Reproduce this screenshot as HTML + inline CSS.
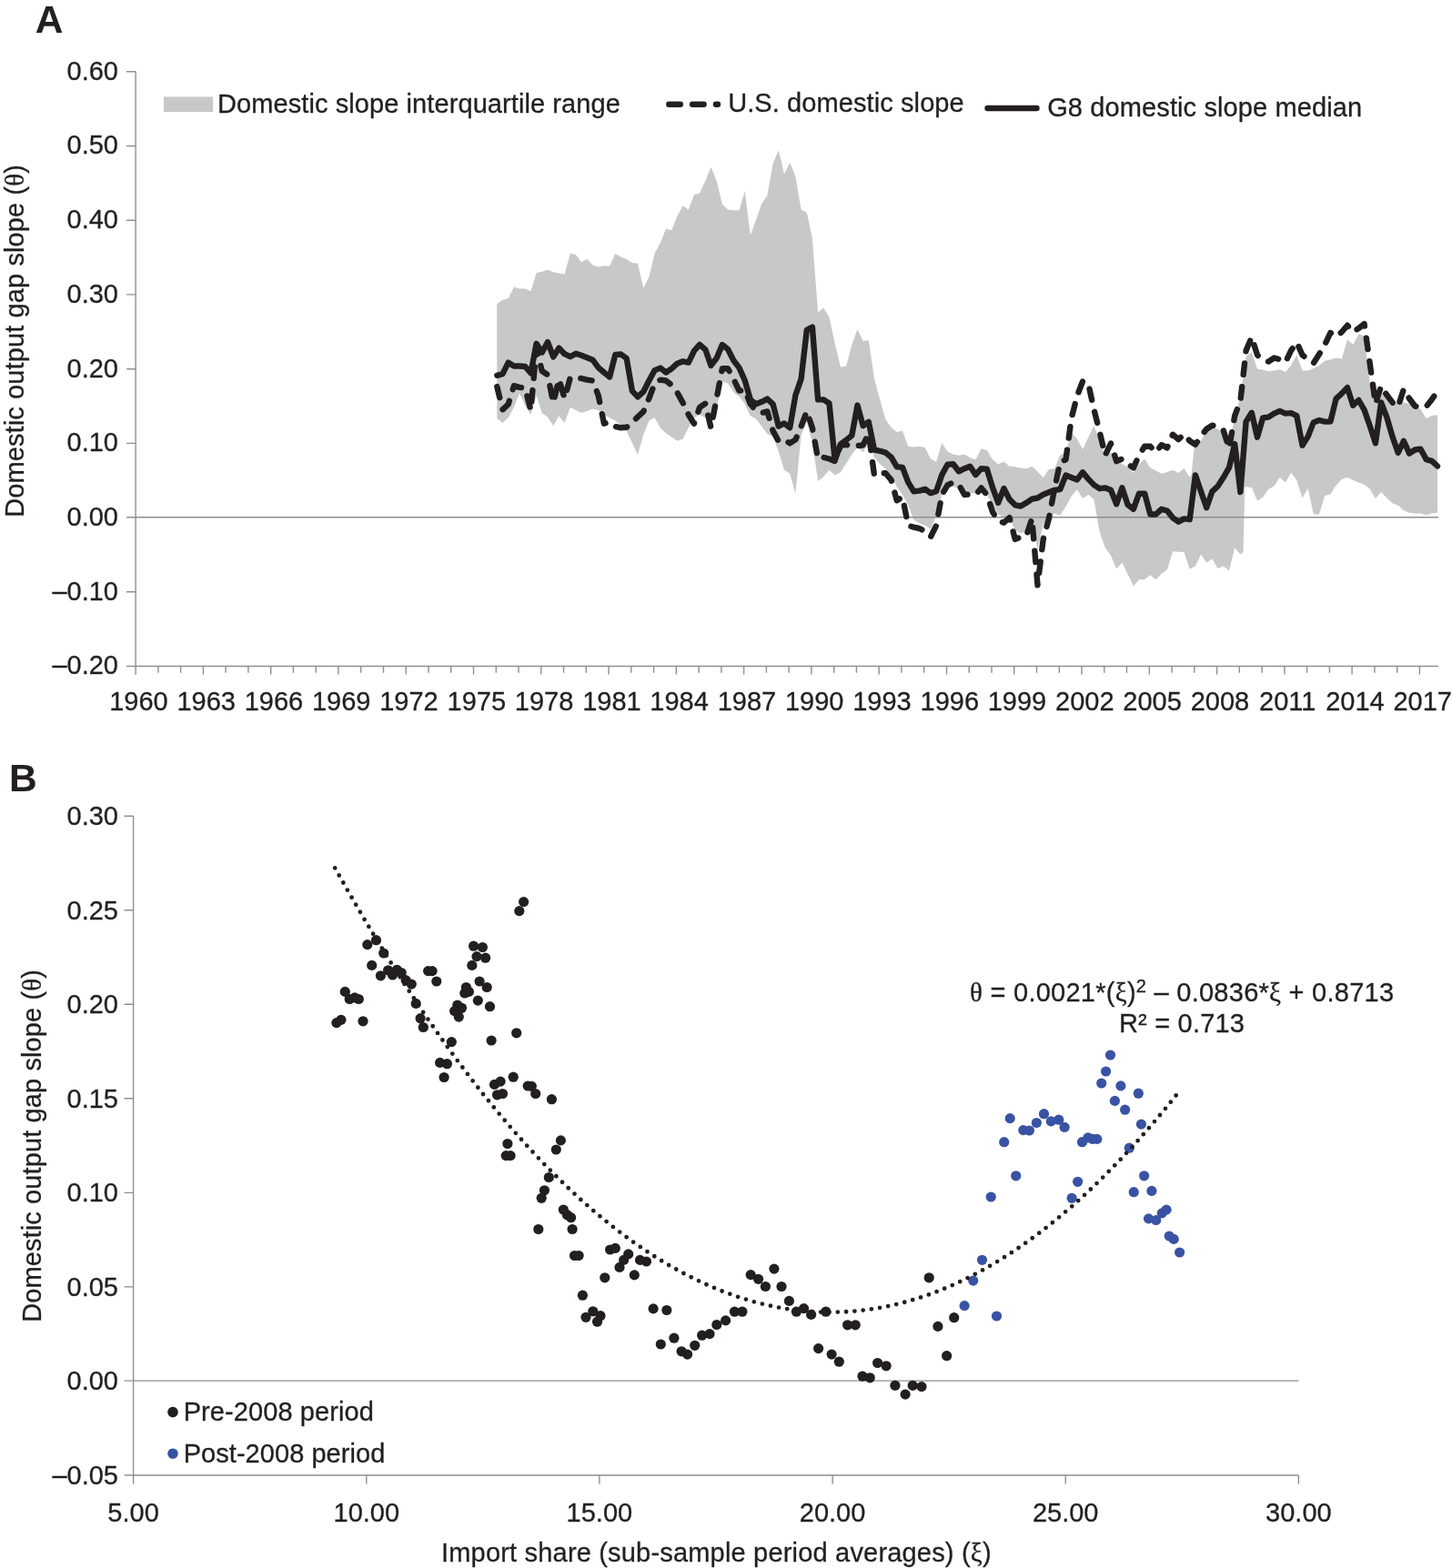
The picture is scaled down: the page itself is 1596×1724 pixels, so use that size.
<!DOCTYPE html>
<html lang="en"><head><meta charset="utf-8"><title>Domestic output gap slope</title>
<style>html,body{margin:0;padding:0;background:#fff}svg{display:block}text{font-family:"Liberation Sans",Arial,Helvetica,sans-serif;fill:#231f20;stroke:#231f20;stroke-width:0.3px}.g{font-family:"Liberation Serif","DejaVu Serif",serif}.b{font-weight:bold;stroke-width:0}</style></head><body>
<svg width="1596" height="1724" viewBox="0 0 1596 1724">
<rect width="1596" height="1724" fill="#fff"/>
<polygon fill="#c7c8ca" points="546.3,333.9 552.5,329.8 558.7,328.2 564.9,315.6 571.1,317.6 577.2,317.6 583.4,320 589.6,300 595.8,298.8 602,296.4 608.2,299.3 614.4,300.5 620.6,301.6 626.8,278.5 633,280.1 639.1,288.3 645.3,284.7 651.5,291.5 657.7,293.5 663.9,292.3 670.1,292.8 676.3,278.8 682.5,282.6 688.7,285 694.9,289.1 701,289.6 707.2,316.8 713.4,304.5 719.6,278.5 725.8,267.1 732,251.6 738.2,253.2 744.4,237.8 750.6,226.3 756.8,230.4 762.9,214.1 769.1,212.5 775.3,198.7 781.5,183.7 787.7,198.7 793.9,224.7 800.1,230.4 806.3,231.2 812.5,231.2 818.7,210.1 824.8,258.6 831,241.8 837.2,223.9 843.4,214.9 849.6,179.9 855.8,165.3 862,191.3 868.2,178.8 874.4,193.8 880.6,230.4 886.8,233.4 892.9,262.2 899.1,343.6 905.3,338.4 911.5,349 917.7,377.5 923.9,403.5 930.1,402.7 936.3,379.1 942.5,362 948.6,375 954.8,374.2 961,416.6 967.2,439.4 973.4,461.3 979.6,470.1 985.8,475.1 992,473.8 998.2,490.8 1004.4,491.4 1010.5,490.8 1016.7,492 1022.9,504.5 1029.1,507.7 1035.3,487 1041.5,496.4 1047.7,499.5 1053.9,500.8 1060.1,499.5 1066.3,503.3 1072.4,505.2 1078.6,493.3 1084.8,495.1 1091,505.2 1097.2,510.2 1103.4,507.7 1109.6,512.7 1115.8,513.3 1122,514.6 1128.2,515.2 1134.3,512.8 1140.5,518.5 1146.7,525 1152.9,516 1159.1,515.2 1165.3,500.6 1171.5,497.3 1177.7,476.1 1183.9,482.6 1190.1,494 1196.2,481 1202.4,468 1208.6,484.3 1214.8,502.2 1221,497.3 1227.2,505.4 1233.4,510.3 1239.6,513.6 1245.8,520.1 1252,510.3 1258.2,504.6 1264.3,514.2 1270.5,517.5 1276.7,520.7 1282.9,519.1 1289.1,516.7 1295.3,519.9 1301.5,515 1307.7,524.8 1309.5,522.2 1312.6,492.9 1313.9,486.4 1320,484.8 1326.2,473.4 1332.4,470.1 1338.6,471.7 1344.8,476.6 1351,486.4 1357.2,460.3 1363.4,435.9 1369.6,391.9 1375.8,387 1382,405.8 1388.1,406.6 1394.3,408.2 1400.5,407.4 1406.7,406.2 1412.9,409 1419.1,401.7 1425.3,390.3 1431.5,407.4 1437.7,407.4 1443.8,404.9 1450,401.7 1456.2,396.8 1462.4,395.2 1468.6,393.5 1474.8,394.4 1481,373.2 1487.2,378.9 1493.4,367.5 1499.6,369.1 1505.8,421.2 1511.9,444 1518.1,431 1524.3,437.5 1530.5,442.4 1536.7,444 1542.9,442.4 1549.1,444 1555.3,446.5 1561.5,449.7 1567.7,460.3 1573.8,457.1 1580,456.3 1580,563.8 1573.8,564.6 1567.7,566.2 1561.5,564.6 1555.3,564.6 1549.1,563.8 1542.9,561.3 1536.7,555.6 1530.5,553.2 1524.3,547.5 1518.1,541 1511.9,548.3 1505.8,537.7 1499.6,532.8 1493.4,530.4 1487.2,527.9 1481,524.7 1474.8,527.1 1468.6,533.6 1462.4,543.4 1456.2,545.1 1450,565.4 1443.8,565.4 1437.7,536.9 1431.5,547.5 1425.3,527.9 1419.1,519.8 1412.9,530.4 1406.7,524.7 1400.5,534.5 1394.3,537.7 1388.1,546.7 1382,550.8 1375.8,536.1 1369.6,535.3 1368.3,536.2 1366.5,607.1 1363.4,609.5 1357.2,602.2 1351,627.4 1344.8,622.6 1338.6,625 1332.4,614.4 1326.2,618.5 1320,609.5 1313.9,622.6 1307.7,625.8 1301.5,607.1 1295.3,606.8 1289.1,606.3 1282.9,626.6 1276.7,630.7 1270.5,637.2 1264.3,632.3 1258.2,637.2 1252,637.2 1245.8,644.5 1239.6,631.5 1233.4,618.5 1227.2,625.4 1221,610.8 1214.8,602.6 1208.6,584.7 1202.4,548.9 1196.2,544 1190.1,548.1 1183.9,538.3 1177.7,545.6 1171.5,557 1165.3,566.8 1159.1,564.4 1152.9,568.4 1146.7,576.6 1140.5,604.3 1134.3,570.1 1128.2,584.1 1122,586.6 1115.8,582.9 1109.6,569.1 1103.4,569.1 1097.2,565.3 1091,555.3 1084.8,544 1078.6,540.3 1072.4,542.8 1066.3,542.1 1060.1,544 1053.9,536.5 1047.7,535.2 1041.5,536.5 1035.3,544 1029.1,567.8 1022.9,581.6 1016.7,577.8 1010.5,575.3 1004.4,571.6 998.2,555.3 992,544 985.8,535.2 979.6,522.7 973.4,515.2 967.2,510.2 961,502.7 954.8,486.6 948.6,497.2 942.5,491.5 936.3,499.7 930.1,509.4 923.9,519.2 917.7,522.5 911.5,516.8 905.3,524.1 899.1,529 892.9,486.6 886.8,463.8 880.6,478.5 874.4,542.8 868.2,520.8 862,516.8 855.8,496.4 849.6,480.1 843.4,476.9 837.2,468.7 831,460.6 824.8,457.3 818.7,444.3 812.5,436.1 806.3,431.2 800.1,421.5 793.9,419.8 787.7,449 781.5,460 775.3,459.2 769.1,456 762.9,459.2 756.8,470.6 750.6,482.8 744.4,484.8 738.2,480.4 732,476.3 725.8,470.6 719.6,459.2 713.4,462.5 707.2,477.9 701,499.9 694.9,486.9 688.7,473.9 682.5,467.4 676.3,462.5 670.1,459.2 663.9,456 657.7,451.1 651.5,449.4 645.3,451.9 639.1,454 633,451.1 626.8,447.8 620.6,464.9 614.4,457.6 608.2,468.2 602,458.4 595.8,454.3 589.6,434.8 583.4,456 577.2,446.2 571.1,432.3 564.9,447.8 558.7,459.2 552.5,464.9 546.3,460"/>
<g stroke="#8f8f8f" stroke-width="1.4" fill="none">
<path d="M149.1 78.8 V741.8"/>
<path d="M139.1 732.5 H1581"/>
<path d="M139.1 568.8 H1581"/>
<path d="M139.1 78.8 H149.1M139.1 160.5 H149.1M139.1 242.2 H149.1M139.1 323.9 H149.1M139.1 405.7 H149.1M139.1 487.4 H149.1M139.1 650.8 H149.1"/>
<path d="M173.9 732.5 V739.7M198.6 732.5 V739.7M223.4 732.5 V741.5M248.1 732.5 V739.7M272.9 732.5 V739.7M297.7 732.5 V741.5M322.4 732.5 V739.7M347.2 732.5 V739.7M371.9 732.5 V741.5M396.7 732.5 V739.7M421.5 732.5 V739.7M446.2 732.5 V741.5M471 732.5 V739.7M495.7 732.5 V739.7M520.5 732.5 V741.5M545.3 732.5 V739.7M570 732.5 V739.7M594.8 732.5 V741.5M619.5 732.5 V739.7M644.3 732.5 V739.7M669.1 732.5 V741.5M693.8 732.5 V739.7M718.6 732.5 V739.7M743.3 732.5 V741.5M768.1 732.5 V739.7M792.9 732.5 V739.7M817.6 732.5 V741.5M842.4 732.5 V739.7M867.1 732.5 V739.7M891.9 732.5 V741.5M916.7 732.5 V739.7M941.4 732.5 V739.7M966.2 732.5 V741.5M990.9 732.5 V739.7M1015.7 732.5 V739.7M1040.5 732.5 V741.5M1065.2 732.5 V739.7M1090 732.5 V739.7M1114.7 732.5 V741.5M1139.5 732.5 V739.7M1164.3 732.5 V739.7M1189 732.5 V741.5M1213.8 732.5 V739.7M1238.5 732.5 V739.7M1263.3 732.5 V741.5M1288.1 732.5 V739.7M1312.8 732.5 V739.7M1337.6 732.5 V741.5M1362.3 732.5 V739.7M1387.1 732.5 V739.7M1411.9 732.5 V741.5M1436.6 732.5 V739.7M1461.4 732.5 V739.7M1486.1 732.5 V741.5M1510.9 732.5 V739.7M1535.7 732.5 V739.7M1560.4 732.5 V741.5"/>
</g>
<polyline fill="none" stroke="#231f20" stroke-width="6.4" stroke-linejoin="round" stroke-linecap="round" stroke-dasharray="12.5 13.3" points="546.3,425 552.5,450.3 558.7,444.5 564.9,424.2 571.1,425.8 577.2,426.6 583.4,451.1 589.6,383.5 595.8,408 602,412 608.2,442.9 614.4,416.9 620.6,438 626.8,415.2 633,415.2 639.1,416 645.3,417.7 651.5,418.5 657.7,434.8 663.9,465.7 670.1,464.1 676.3,469 682.5,470.3 688.7,469.8 694.9,464.1 701,458.4 707.2,452.7 713.4,438 719.6,421.7 725.8,417.7 732,418.5 738.2,423.4 744.4,431.5 750.6,442.9 756.8,456 762.9,465.7 769.1,447.8 775.3,443.7 781.5,470.3 787.7,437.8 793.9,405.2 800.1,405.2 806.3,416.6 812.5,429.6 818.7,428.8 824.8,444.3 831,451.6 837.2,454 843.4,452.4 849.6,473.6 855.8,485 862,483.4 868.2,487.4 874.4,483.4 880.6,468.7 886.8,452.4 892.9,470.3 899.1,504.5 905.3,502.9 911.5,504.5 917.7,507 923.9,489.9 930.1,488.9 936.3,491.4 942.5,490.1 948.6,489.5 954.8,476.3 961,522.7 967.2,520.2 973.4,520.2 979.6,527.7 985.8,550.3 992,546.5 998.2,577.8 1004.4,579.7 1010.5,581 1016.7,584.1 1022.9,590.4 1029.1,577.8 1035.3,544 1041.5,533.4 1047.7,530.2 1053.9,532.7 1060.1,544 1066.3,543.4 1072.4,544 1078.6,536.5 1084.8,544 1091,562.8 1097.2,572.8 1103.4,574.7 1109.6,569.1 1115.8,592.9 1122,590.4 1128.2,589.1 1134.3,570.1 1140.5,643.4 1146.7,592.9 1152.9,570.1 1159.1,537.5 1165.3,508.1 1171.5,505.4 1177.7,459.8 1183.9,435.4 1190.1,419.1 1196.2,421.5 1202.4,450.1 1208.6,474.5 1214.8,500.6 1221,487.5 1227.2,507.1 1233.4,504.6 1239.6,510.3 1245.8,514.4 1252,500.6 1258.2,490.8 1264.3,490.8 1270.5,497.3 1276.7,489.2 1282.9,492.4 1289.1,477.8 1295.3,483.1 1301.5,477.4 1307.7,484.8 1313.9,488.8 1320,479.9 1326.2,471.7 1332.4,467.7 1338.6,468.5 1344.8,473.4 1351,492.9 1357.2,457.1 1363.4,440.8 1369.6,385.4 1375.8,370.7 1382,390.3 1388.1,395.2 1394.3,397.6 1400.5,393.5 1406.7,395.2 1412.9,398.4 1419.1,385.4 1425.3,376.4 1431.5,390.3 1437.7,395.2 1443.8,399.2 1450,389.5 1456.2,378.9 1462.4,365.8 1468.6,369.9 1474.8,365 1481,357.7 1487.2,365 1493.4,361 1499.6,356.1 1505.8,400.1 1511.9,444 1518.1,424.5 1524.3,434.3 1530.5,442.4 1536.7,447.3 1542.9,427.8 1549.1,438.3 1555.3,446.5 1561.5,448.1 1567.7,447 1573.8,439.2 1580,430.2"/>
<polyline fill="none" stroke="#231f20" stroke-width="6.4" stroke-linejoin="round" stroke-linecap="round" points="546.3,412.8 552.5,411.2 558.7,398.6 564.9,402.5 571.1,402.5 577.2,403 583.4,410.3 589.6,377.8 595.8,387.5 602,376.1 608.2,392.4 614.4,382.6 620.6,389.2 626.8,392.1 633,388.8 639.1,390.8 645.3,393.2 651.5,395.7 657.7,404.1 663.9,409.5 670.1,414.4 676.3,390 682.5,389.5 688.7,394 694.9,429.9 701,436.4 707.2,430.7 713.4,418.5 719.6,407.1 725.8,404.6 732,409.5 738.2,405.4 744.4,399.7 750.6,397.3 756.8,398.6 762.9,385.9 769.1,378.9 775.3,384.3 781.5,401.9 787.7,393.8 793.9,379.1 800.1,384 806.3,396.2 812.5,404.4 818.7,418.2 824.8,439.4 831,444.3 837.2,441.8 843.4,438.6 849.6,444.3 855.8,468.7 862,465.4 868.2,470.3 874.4,434.5 880.6,416.6 886.8,362.8 892.9,359.6 899.1,439.4 905.3,439.4 911.5,443.5 917.7,506.2 923.9,488.3 930.1,483.9 936.3,478.8 942.5,445.6 948.6,468.2 954.8,463.8 961,494.5 967.2,495.8 973.4,497.6 979.6,502.7 985.8,513.3 992,513.9 998.2,530.2 1004.4,540.3 1010.5,539.6 1016.7,537.7 1022.9,542.1 1029.1,540.3 1035.3,522.1 1041.5,510.8 1047.7,510.2 1053.9,518.3 1060.1,515.2 1066.3,512.7 1072.4,522.1 1078.6,515.2 1084.8,515.8 1091,535.9 1097.2,552.8 1103.4,537.1 1109.6,549 1115.8,555.3 1122,556.5 1128.2,552.8 1134.3,548.6 1140.5,547.5 1146.7,543.7 1152.9,541.3 1159.1,538.8 1165.3,538 1171.5,522.6 1177.7,525 1183.9,527.4 1190.1,519.3 1196.2,526.6 1202.4,533.1 1208.6,537.2 1214.8,536.4 1221,538.8 1227.2,554.3 1233.4,536.2 1239.6,554.9 1245.8,559.8 1252,542.7 1258.2,542.7 1264.3,565.5 1270.5,565.5 1276.7,559.8 1282.9,561.5 1289.1,569.3 1295.3,573.7 1301.5,570.4 1307.7,571.2 1313.9,522.4 1320,540.3 1326.2,558.2 1332.4,540.3 1338.6,534.6 1344.8,524.8 1351,514.2 1357.2,488.1 1363.4,541.1 1369.6,463.6 1375.8,453.8 1382,480.7 1388.1,459.5 1394.3,458.7 1400.5,454.6 1406.7,451.9 1412.9,454.6 1419.1,454.1 1425.3,457.1 1431.5,489.7 1437.7,479.9 1443.8,464.4 1450,462 1456.2,463.6 1462.4,463.6 1468.6,438.3 1474.8,432.6 1481,426.1 1487.2,445.7 1493.4,440 1499.6,450.6 1505.8,468.5 1511.9,487.2 1518.1,442.4 1524.3,458.7 1530.5,479.9 1536.7,497.8 1542.9,484.8 1549.1,498.6 1555.3,494.5 1561.5,493.7 1567.7,505.1 1573.8,506.8 1580,512.5"/>
<text class="b" x="38.7" y="35.7" font-size="42.5">A</text>
<g font-size="29" text-anchor="end">
<text x="130" y="87.6">0.60</text>
<text x="130" y="169.3">0.50</text>
<text x="130" y="251">0.40</text>
<text x="130" y="332.7">0.30</text>
<text x="130" y="414.5">0.20</text>
<text x="130" y="496.2">0.10</text>
<text x="130" y="577.9">0.00</text>
<text x="130" y="659.6">–0.10</text>
<text x="130" y="741.3">–0.20</text>
</g>
<g font-size="29" text-anchor="middle">
<text x="152.4" y="780.6">1960</text>
<text x="226.7" y="780.6">1963</text>
<text x="301" y="780.6">1966</text>
<text x="375.2" y="780.6">1969</text>
<text x="449.5" y="780.6">1972</text>
<text x="523.8" y="780.6">1975</text>
<text x="598.1" y="780.6">1978</text>
<text x="672.4" y="780.6">1981</text>
<text x="746.6" y="780.6">1984</text>
<text x="820.9" y="780.6">1987</text>
<text x="895.2" y="780.6">1990</text>
<text x="969.5" y="780.6">1993</text>
<text x="1043.8" y="780.6">1996</text>
<text x="1118" y="780.6">1999</text>
<text x="1192.3" y="780.6">2002</text>
<text x="1266.6" y="780.6">2005</text>
<text x="1340.9" y="780.6">2008</text>
<text x="1415.2" y="780.6">2011</text>
<text x="1489.4" y="780.6">2014</text>
<text x="1563.7" y="780.6">2017</text>
</g>
<text font-size="29" text-anchor="middle" letter-spacing="0.11" transform="translate(25.8 374.9) rotate(-90)">Domestic output gap slope (<tspan class="g">θ</tspan>)</text>
<rect x="180" y="106.4" width="54.1" height="16.6" fill="#c7c8ca"/>
<text font-size="29" x="239" y="124" letter-spacing="0.085">Domestic slope interquartile range</text>
<path d="M735.3 114.8 H789" fill="none" stroke="#231f20" stroke-width="6.4" stroke-linecap="round" stroke-dasharray="12.5 13.3"/>
<text font-size="29" x="800.2" y="123.4" letter-spacing="0.09">U.S. domestic slope</text>
<path d="M1085.5 119 H1139.5" fill="none" stroke="#231f20" stroke-width="6.4" stroke-linecap="round"/>
<text font-size="29" x="1151.2" y="127.5" letter-spacing="0.115">G8 domestic slope median</text>
<g stroke="#8f8f8f" stroke-width="1.4" fill="none">
<path d="M146.6 897.2 V1631.5"/>
<path d="M136.6 1622 H1427.4"/>
<path d="M136.6 1518.1 H1427.4"/>
<path d="M136.6 897.2 H146.6M136.6 1000.7 H146.6M136.6 1104.3 H146.6M136.6 1207.8 H146.6M136.6 1311.4 H146.6M136.6 1414.9 H146.6M402.8 1622 V1631.5M658.9 1622 V1631.5M915.1 1622 V1631.5M1171.2 1622 V1631.5M1427.4 1622 V1631.5"/>
</g>
<g fill="#231f20">
<circle cx="575.6" cy="991.6" r="5.6"/>
<circle cx="570.8" cy="1001.6" r="5.6"/>
<circle cx="413.5" cy="1033.7" r="5.6"/>
<circle cx="403.8" cy="1038.6" r="5.6"/>
<circle cx="421.7" cy="1048" r="5.6"/>
<circle cx="408.7" cy="1061.4" r="5.6"/>
<circle cx="418.4" cy="1072.8" r="5.6"/>
<circle cx="426.6" cy="1066.8" r="5.6"/>
<circle cx="431.5" cy="1072" r="5.6"/>
<circle cx="436.3" cy="1066.3" r="5.6"/>
<circle cx="441.2" cy="1069.5" r="5.6"/>
<circle cx="446.1" cy="1077.7" r="5.6"/>
<circle cx="452.3" cy="1082.1" r="5.6"/>
<circle cx="470.6" cy="1067.6" r="5.6"/>
<circle cx="475.1" cy="1067.6" r="5.6"/>
<circle cx="479.8" cy="1079" r="5.6"/>
<circle cx="520.6" cy="1040.2" r="5.6"/>
<circle cx="530.4" cy="1041.5" r="5.6"/>
<circle cx="524" cy="1051.6" r="5.6"/>
<circle cx="533.6" cy="1053.2" r="5.6"/>
<circle cx="518.8" cy="1061.4" r="5.6"/>
<circle cx="527.1" cy="1079" r="5.6"/>
<circle cx="535.2" cy="1085.5" r="5.6"/>
<circle cx="512.4" cy="1085.5" r="5.6"/>
<circle cx="515.4" cy="1090.4" r="5.6"/>
<circle cx="510.8" cy="1092" r="5.6"/>
<circle cx="525.3" cy="1100.1" r="5.6"/>
<circle cx="538.5" cy="1106.7" r="5.6"/>
<circle cx="502.8" cy="1105" r="5.6"/>
<circle cx="507.5" cy="1108.3" r="5.6"/>
<circle cx="499.6" cy="1111.6" r="5.6"/>
<circle cx="504.3" cy="1118.1" r="5.6"/>
<circle cx="379.3" cy="1090.4" r="5.6"/>
<circle cx="389.9" cy="1096.9" r="5.6"/>
<circle cx="384.2" cy="1098.5" r="5.6"/>
<circle cx="394.3" cy="1098.5" r="5.6"/>
<circle cx="374.9" cy="1121.3" r="5.6"/>
<circle cx="369.9" cy="1124.6" r="5.6"/>
<circle cx="399" cy="1122.8" r="5.6"/>
<circle cx="457.2" cy="1103.4" r="5.6"/>
<circle cx="462.1" cy="1119.7" r="5.6"/>
<circle cx="465.3" cy="1129.5" r="5.6"/>
<circle cx="496.3" cy="1145.6" r="5.6"/>
<circle cx="540.1" cy="1144" r="5.6"/>
<circle cx="567.7" cy="1135.8" r="5.6"/>
<circle cx="483.6" cy="1168.4" r="5.6"/>
<circle cx="491.4" cy="1169.7" r="5.6"/>
<circle cx="488.1" cy="1184.5" r="5.6"/>
<circle cx="564.2" cy="1184.2" r="5.6"/>
<circle cx="550.1" cy="1189.1" r="5.6"/>
<circle cx="543.5" cy="1192.4" r="5.6"/>
<circle cx="552.5" cy="1202.5" r="5.6"/>
<circle cx="546.5" cy="1203.8" r="5.6"/>
<circle cx="580.2" cy="1194" r="5.6"/>
<circle cx="584.3" cy="1194.3" r="5.6"/>
<circle cx="588.7" cy="1202.5" r="5.6"/>
<circle cx="606.4" cy="1208.7" r="5.6"/>
<circle cx="557.9" cy="1257.5" r="5.6"/>
<circle cx="556.2" cy="1270.6" r="5.6"/>
<circle cx="561.1" cy="1270.6" r="5.6"/>
<circle cx="616.4" cy="1253.9" r="5.6"/>
<circle cx="611.3" cy="1264" r="5.6"/>
<circle cx="603.3" cy="1294.5" r="5.6"/>
<circle cx="598.4" cy="1308.8" r="5.6"/>
<circle cx="595.2" cy="1317.3" r="5.6"/>
<circle cx="619.3" cy="1330" r="5.6"/>
<circle cx="623.4" cy="1335.7" r="5.6"/>
<circle cx="627.6" cy="1338.7" r="5.6"/>
<circle cx="591.8" cy="1351.5" r="5.6"/>
<circle cx="629.1" cy="1351.5" r="5.6"/>
<circle cx="670.6" cy="1374" r="5.6"/>
<circle cx="676.3" cy="1372.4" r="5.6"/>
<circle cx="631.5" cy="1380.5" r="5.6"/>
<circle cx="636.1" cy="1380.5" r="5.6"/>
<circle cx="690.7" cy="1378.9" r="5.6"/>
<circle cx="685.6" cy="1385.4" r="5.6"/>
<circle cx="703.5" cy="1385.4" r="5.6"/>
<circle cx="710.5" cy="1387" r="5.6"/>
<circle cx="681" cy="1393.4" r="5.6"/>
<circle cx="697.3" cy="1401.9" r="5.6"/>
<circle cx="664.8" cy="1404.8" r="5.6"/>
<circle cx="640.4" cy="1424.2" r="5.6"/>
<circle cx="651.8" cy="1441.8" r="5.6"/>
<circle cx="644" cy="1448.3" r="5.6"/>
<circle cx="660" cy="1446.7" r="5.6"/>
<circle cx="656.5" cy="1453.2" r="5.6"/>
<circle cx="718.1" cy="1438.9" r="5.6"/>
<circle cx="732.8" cy="1440.5" r="5.6"/>
<circle cx="740.9" cy="1471.2" r="5.6"/>
<circle cx="726.3" cy="1478" r="5.6"/>
<circle cx="749.1" cy="1485.8" r="5.6"/>
<circle cx="755.6" cy="1489.1" r="5.6"/>
<circle cx="763.7" cy="1479.3" r="5.6"/>
<circle cx="771.6" cy="1468.2" r="5.6"/>
<circle cx="780" cy="1466.6" r="5.6"/>
<circle cx="787.8" cy="1456.5" r="5.6"/>
<circle cx="797.6" cy="1451.9" r="5.6"/>
<circle cx="807.4" cy="1442.2" r="5.6"/>
<circle cx="815.9" cy="1442.2" r="5.6"/>
<circle cx="825.2" cy="1401.6" r="5.6"/>
<circle cx="833.5" cy="1406.3" r="5.6"/>
<circle cx="841.4" cy="1414.5" r="5.6"/>
<circle cx="850.9" cy="1395.1" r="5.6"/>
<circle cx="859" cy="1414.5" r="5.6"/>
<circle cx="867.4" cy="1430.4" r="5.6"/>
<circle cx="875.4" cy="1442.2" r="5.6"/>
<circle cx="883.5" cy="1438.6" r="5.6"/>
<circle cx="891.6" cy="1445.4" r="5.6"/>
<circle cx="907.8" cy="1442.2" r="5.6"/>
<circle cx="931.6" cy="1456.8" r="5.6"/>
<circle cx="940.2" cy="1456.8" r="5.6"/>
<circle cx="899.6" cy="1482.6" r="5.6"/>
<circle cx="914.1" cy="1489.1" r="5.6"/>
<circle cx="922.3" cy="1497.2" r="5.6"/>
<circle cx="964.6" cy="1498.5" r="5.6"/>
<circle cx="974.1" cy="1501.8" r="5.6"/>
<circle cx="948" cy="1513.2" r="5.6"/>
<circle cx="956.2" cy="1514.8" r="5.6"/>
<circle cx="983.9" cy="1523.3" r="5.6"/>
<circle cx="995.1" cy="1533.1" r="5.6"/>
<circle cx="1003.2" cy="1523.3" r="5.6"/>
<circle cx="1013" cy="1524.6" r="5.6"/>
<circle cx="1021.2" cy="1404.8" r="5.6"/>
<circle cx="1030.9" cy="1458.4" r="5.6"/>
<circle cx="1048.7" cy="1448.7" r="5.6"/>
<circle cx="1040.6" cy="1490.7" r="5.6"/>
</g>
<g fill="#3953a4">
<circle cx="1079.5" cy="1385.3" r="5.6"/>
<circle cx="1069.7" cy="1408.1" r="5.6"/>
<circle cx="1060.1" cy="1435.6" r="5.6"/>
<circle cx="1095.5" cy="1447" r="5.6"/>
<circle cx="1220.5" cy="1160" r="5.6"/>
<circle cx="1215.6" cy="1178" r="5.6"/>
<circle cx="1210.7" cy="1191" r="5.6"/>
<circle cx="1231.9" cy="1193.9" r="5.6"/>
<circle cx="1251.3" cy="1202.2" r="5.6"/>
<circle cx="1225.4" cy="1210.4" r="5.6"/>
<circle cx="1236.6" cy="1220.2" r="5.6"/>
<circle cx="1254.4" cy="1236.1" r="5.6"/>
<circle cx="1110.2" cy="1229.6" r="5.6"/>
<circle cx="1147.5" cy="1224.7" r="5.6"/>
<circle cx="1139.3" cy="1234.5" r="5.6"/>
<circle cx="1155.3" cy="1232.9" r="5.6"/>
<circle cx="1163.8" cy="1231.2" r="5.6"/>
<circle cx="1170.1" cy="1239.4" r="5.6"/>
<circle cx="1124.8" cy="1242.6" r="5.6"/>
<circle cx="1131.4" cy="1243" r="5.6"/>
<circle cx="1103.7" cy="1255.7" r="5.6"/>
<circle cx="1189.5" cy="1255.7" r="5.6"/>
<circle cx="1196" cy="1250.8" r="5.6"/>
<circle cx="1200.9" cy="1252.4" r="5.6"/>
<circle cx="1205.8" cy="1252.4" r="5.6"/>
<circle cx="1241.3" cy="1262.2" r="5.6"/>
<circle cx="1116.7" cy="1292.8" r="5.6"/>
<circle cx="1089.2" cy="1316" r="5.6"/>
<circle cx="1184.6" cy="1299.3" r="5.6"/>
<circle cx="1178.1" cy="1317.3" r="5.6"/>
<circle cx="1257.6" cy="1292.8" r="5.6"/>
<circle cx="1246.2" cy="1310.7" r="5.6"/>
<circle cx="1265.9" cy="1309.4" r="5.6"/>
<circle cx="1282.1" cy="1330.1" r="5.6"/>
<circle cx="1277.2" cy="1333.9" r="5.6"/>
<circle cx="1262.5" cy="1339.9" r="5.6"/>
<circle cx="1270.7" cy="1341.5" r="5.6"/>
<circle cx="1285.2" cy="1359.1" r="5.6"/>
<circle cx="1290.2" cy="1362.4" r="5.6"/>
<circle cx="1296.6" cy="1377" r="5.6"/>
</g>
<polyline fill="none" stroke="#231f20" stroke-width="4.8" stroke-linecap="round" stroke-dasharray="0 9.3" points="368.2,954.3 372.8,962.6 377.5,970.8 382.1,979 386.8,987.1 391.4,995.1 396.1,1003.1 400.7,1011 405.4,1018.8 410,1026.5 414.7,1034.2 419.3,1041.8 424,1049.3 428.6,1056.8 433.3,1064.2 437.9,1071.5 442.6,1078.7 447.2,1085.9 451.9,1093 456.5,1100 461.2,1107 465.8,1113.9 470.5,1120.7 475.1,1127.4 479.8,1134.1 484.4,1140.7 489.1,1147.2 493.7,1153.7 498.4,1160.1 503,1166.4 507.7,1172.6 512.3,1178.8 517,1184.9 521.6,1190.9 526.3,1196.9 530.9,1202.8 535.6,1208.6 540.2,1214.3 544.9,1220 549.5,1225.6 554.2,1231.1 558.8,1236.6 563.5,1242 568.1,1247.3 572.8,1252.5 577.4,1257.7 582.1,1262.8 586.7,1267.8 591.4,1272.8 596,1277.7 600.7,1282.5 605.3,1287.2 610,1291.9 614.6,1296.5 619.3,1301 623.9,1305.5 628.6,1309.9 633.2,1314.2 637.9,1318.5 642.5,1322.6 647.2,1326.7 651.8,1330.8 656.5,1334.7 661.1,1338.6 665.8,1342.4 670.4,1346.2 675.1,1349.9 679.7,1353.5 684.4,1357 689,1360.5 693.7,1363.9 698.3,1367.2 703,1370.4 707.6,1373.6 712.3,1376.7 716.9,1379.7 721.6,1382.7 726.2,1385.6 730.9,1388.4 735.5,1391.2 740.2,1393.8 744.8,1396.4 749.5,1399 754.1,1401.4 758.8,1403.8 763.4,1406.2 768.1,1408.4 772.7,1410.6 777.4,1412.7 782,1414.7 786.7,1416.7 791.3,1418.6 796,1420.4 800.6,1422.1 805.3,1423.8 809.9,1425.4 814.6,1427 819.2,1428.4 823.9,1429.8 828.5,1431.2 833.2,1432.4 837.8,1433.6 842.5,1434.7 847.1,1435.7 851.8,1436.7 856.4,1437.6 861.1,1438.4 865.7,1439.2 870.4,1439.8 875,1440.5 879.7,1441 884.3,1441.5 889,1441.9 893.6,1442.2 898.3,1442.4 902.9,1442.6 907.6,1442.7 912.2,1442.8 916.9,1442.7 921.5,1442.6 926.2,1442.4 930.8,1442.2 935.5,1441.9 940.1,1441.5 944.8,1441 949.4,1440.5 954.1,1439.9 958.7,1439.2 963.4,1438.5 968,1437.7 972.7,1436.8 977.3,1435.8 982,1434.8 986.6,1433.7 991.3,1432.5 995.9,1431.3 1000.6,1429.9 1005.2,1428.6 1009.9,1427.1 1014.5,1425.6 1019.2,1424 1023.8,1422.3 1028.5,1420.6 1033.1,1418.7 1037.8,1416.8 1042.4,1414.9 1047.1,1412.9 1051.7,1410.8 1056.4,1408.6 1061,1406.3 1065.7,1404 1070.3,1401.6 1075,1399.2 1079.6,1396.7 1084.3,1394.1 1088.9,1391.4 1093.6,1388.6 1098.2,1385.8 1102.9,1382.9 1107.5,1380 1112.2,1377 1116.8,1373.9 1121.5,1370.7 1126.1,1367.5 1130.8,1364.1 1135.4,1360.8 1140.1,1357.3 1144.7,1353.8 1149.4,1350.2 1154,1346.5 1158.7,1342.8 1163.3,1339 1168,1335.1 1172.6,1331.1 1177.3,1327.1 1181.9,1323 1186.6,1318.8 1191.2,1314.6 1195.9,1310.3 1200.5,1305.9 1205.2,1301.4 1209.8,1296.9 1214.5,1292.3 1219.1,1287.6 1223.8,1282.9 1228.4,1278.1 1233.1,1273.2 1237.7,1268.3 1242.4,1263.2 1247,1258.1 1251.7,1253 1256.3,1247.7 1261,1242.4 1265.6,1237 1270.3,1231.6 1274.9,1226.1 1279.6,1220.5 1284.2,1214.8 1288.9,1209.1 1293.5,1203.3"/>
<text class="b" x="10.1" y="870" font-size="42.5">B</text>
<g font-size="29" text-anchor="end">
<text x="130" y="907">0.30</text>
<text x="130" y="1010.5">0.25</text>
<text x="130" y="1114.1">0.20</text>
<text x="130" y="1217.6">0.15</text>
<text x="130" y="1321.2">0.10</text>
<text x="130" y="1424.7">0.05</text>
<text x="130" y="1528.3">0.00</text>
<text x="130" y="1631.8">–0.05</text>
</g>
<g font-size="29" text-anchor="middle">
<text x="146.6" y="1672.5">5.00</text>
<text x="402.8" y="1672.5">10.00</text>
<text x="658.9" y="1672.5">15.00</text>
<text x="915.1" y="1672.5">20.00</text>
<text x="1171.2" y="1672.5">25.00</text>
<text x="1427.4" y="1672.5">30.00</text>
</g>
<text font-size="29" text-anchor="middle" x="787.4" y="1717" letter-spacing="0.185">Import share (sub-sample period averages) (<tspan class="g">ξ</tspan>)</text>
<text font-size="29" text-anchor="middle" letter-spacing="0.11" transform="translate(45.3 1259.9) rotate(-90)">Domestic output gap slope (<tspan class="g">θ</tspan>)</text>
<text font-size="29" text-anchor="middle" x="1299.2" y="1100.5" letter-spacing="0.26"><tspan class="g">θ</tspan> = 0.0021*(<tspan class="g">ξ</tspan>)<tspan font-size="20" dy="-10">2</tspan><tspan dy="10"> – 0.0836*</tspan><tspan class="g">ξ</tspan> + 0.8713</text>
<text font-size="29" text-anchor="middle" x="1299.1" y="1135.4" letter-spacing="0.2">R² = 0.713</text>
<circle cx="190" cy="1552.6" r="5.8" fill="#231f20"/>
<text font-size="29" x="201.7" y="1562.3" letter-spacing="0.09">Pre-2008 period</text>
<circle cx="190" cy="1598.2" r="5.8" fill="#3953a4"/>
<text font-size="29" x="201.7" y="1607.5" letter-spacing="0.05">Post-2008 period</text>
</svg></body></html>
